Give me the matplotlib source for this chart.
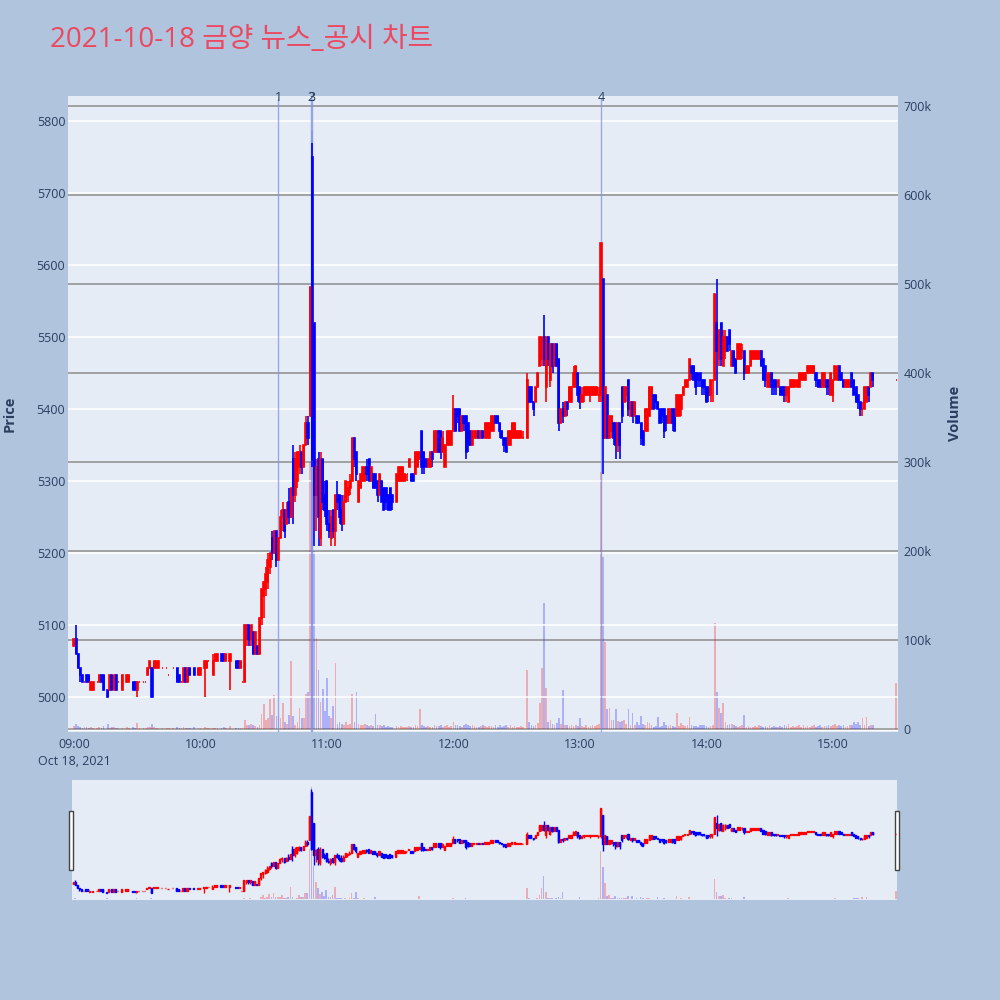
import numpy as np
import matplotlib
matplotlib.use("Agg")
import matplotlib.pyplot as plt
from matplotlib.patches import Rectangle
from matplotlib.transforms import blended_transform_factory

plt.rcParams["font.family"] = ["Open Sans", "Noto Sans CJK KR", "DejaVu Sans"]

# ---------------------- 1분봉 데이터 (09:00 기준 분) ----------------------
minutes = [
    0, 1, 2, 3, 4, 5, 6, 7, 8, 9,
    11, 12, 13, 14, 16, 17, 18, 19, 20, 21,
    23, 25, 26, 28, 29, 30, 31, 33, 34, 35,
    36, 37, 38, 39, 40, 42, 44, 45, 47, 49,
    50, 51, 52, 53, 54, 55, 57, 59,
    # 10:00
    60, 62, 63, 64, 66, 67, 68, 70, 71, 72,
    74, 77, 78, 79, 80, 81, 82, 83, 84, 85,
    86, 87, 88, 89, 90, 91, 92, 93, 94, 95,
    96, 97, 98, 99, 100, 101, 102, 103, 104, 105,
    106, 107, 108, 109, 110, 111, 112, 113, 114, 115,
    116, 117, 118, 119,
    # 11:00
    120, 121, 122, 123, 124, 125, 126, 127, 128, 129,
    130, 131, 132, 133, 134, 135, 136, 137, 138, 139,
    140, 141, 142, 143, 144, 145, 146, 147, 148, 149,
    150, 151, 153, 154, 155, 156, 157, 158, 159, 160,
    161, 162, 163, 164, 165, 166, 167, 168, 169, 170,
    171, 172, 173, 174, 175, 176, 177, 178, 179,
    # 12:00
    180, 181, 182, 183, 184, 185, 186, 187, 188, 189,
    190, 191, 192, 193, 194, 195, 196, 197, 198, 199,
    200, 201, 202, 203, 204, 205, 206, 207, 208, 209,
    210, 211, 212, 213, 215, 216, 217, 218, 219, 220,
    221, 222, 223, 224, 225, 226, 227, 228, 229, 230,
    231, 232, 233, 234, 235, 236, 237, 238, 239,
    # 13:00
    240, 241, 242, 243, 244, 245, 246, 247, 248, 249,
    250, 251, 252, 253, 254, 255, 256, 257, 258, 259,
    260, 261, 262, 263, 264, 265, 266, 267, 268, 269,
    270, 271, 272, 273, 274, 275, 276, 277, 278, 279,
    280, 281, 282, 283, 284, 285, 286, 287, 288, 289,
    290, 291, 292, 293, 294, 295, 296, 297, 298, 299,
    # 14:00
    300, 301, 302, 303, 304, 305, 306, 307, 308, 309,
    310, 311, 312, 313, 314, 315, 316, 317, 318, 319,
    320, 321, 322, 323, 324, 325, 326, 327, 328, 329,
    330, 331, 332, 333, 334, 335, 336, 337, 338, 339,
    340, 341, 342, 343, 344, 345, 346, 347, 348, 349,
    350, 351, 352, 353, 354, 355, 356, 357, 358, 359,
    # 15:00
    360, 361, 362, 363, 364, 365, 366, 367, 368, 369,
    370, 371, 372, 373, 374, 375, 376, 377, 378, 379,
    390,
]

opens = [
    5070, 5080, 5060, 5040, 5030, 5020, 5030, 5030, 5010, 5010,
    5020, 5020, 5030, 5030, 5010, 5010, 5030, 5010, 5030, 5020,
    5010, 5020, 5020, 5020, 5020, 5010, 5020, 5020, 5020, 5030,
    5040, 5040, 5040, 5040, 5040, 5040, 5040, 5030, 5040, 5040,
    5030, 5020, 5020, 5040, 5020, 5040, 5040, 5030,
    5030, 5040, 5040, 5050, 5030, 5050, 5050, 5060, 5060, 5050,
    5050, 5050, 5050, 5040, 5020, 5020, 5080, 5100, 5080, 5090,
    5060, 5070, 5060, 5110, 5140, 5150, 5160, 5180, 5220, 5200,
    5230, 5190, 5220, 5250, 5260, 5240, 5270, 5250, 5330, 5280,
    5300, 5320, 5340, 5320, 5350, 5380, 5390, 5750, 5520, 5280,
    5330, 5220, 5330, 5280,
    5300, 5240, 5220, 5260, 5230, 5280, 5280, 5260, 5240, 5270,
    5280, 5290, 5300, 5360, 5340, 5270, 5290, 5300, 5300, 5320,
    5330, 5300, 5310, 5310, 5300, 5280, 5300, 5290, 5290, 5280,
    5290, 5280, 5270, 5300, 5300, 5300, 5300, 5310, 5320, 5310,
    5310, 5310, 5320, 5330, 5370, 5340, 5330, 5320, 5320, 5340,
    5340, 5340, 5370, 5370, 5340, 5320, 5350, 5350, 5350,
    5370, 5400, 5400, 5400, 5370, 5390, 5390, 5380, 5370, 5350,
    5360, 5360, 5370, 5360, 5370, 5360, 5360, 5360, 5370, 5370,
    5390, 5390, 5380, 5370, 5360, 5360, 5350, 5350, 5360, 5360,
    5360, 5360, 5360, 5360, 5360, 5430, 5430, 5410, 5410, 5430,
    5460, 5470, 5500, 5430, 5500, 5440, 5490, 5460, 5490, 5470,
    5380, 5400, 5390, 5410, 5410, 5410, 5430, 5430, 5450,
    5430, 5410, 5420, 5420, 5420, 5420, 5420, 5420, 5420, 5420,
    5420, 5580, 5360, 5420, 5360, 5370, 5380, 5380, 5350, 5380,
    5430, 5410, 5420, 5440, 5390, 5410, 5390, 5390, 5390, 5380,
    5370, 5370, 5370, 5390, 5400, 5420, 5420, 5410, 5400, 5400,
    5400, 5390, 5380, 5380, 5400, 5400, 5390, 5390, 5400, 5420,
    5430, 5430, 5440, 5460, 5460, 5450, 5450, 5450, 5440, 5440,
    5430, 5430, 5420, 5440, 5440, 5520, 5470, 5520, 5460, 5480,
    5500, 5510, 5460, 5480, 5470, 5470, 5470, 5480, 5480, 5450,
    5450, 5460, 5470, 5470, 5470, 5470, 5480, 5470, 5460, 5430,
    5430, 5450, 5440, 5440, 5430, 5430, 5430, 5430, 5420, 5410,
    5430, 5430, 5430, 5430, 5430, 5440, 5440, 5440, 5450, 5450,
    5450, 5450, 5450, 5440, 5440, 5430, 5430, 5440, 5440, 5420,
    5420, 5440, 5440, 5460, 5450, 5440, 5430, 5430, 5430, 5450,
    5440, 5430, 5420, 5410, 5400, 5400, 5410, 5430, 5430, 5450,
    5440,
]

highs = [
    5080, 5100, 5060, 5040, 5030, 5020, 5030, 5030, 5020, 5020,
    5020, 5030, 5030, 5030, 5010, 5030, 5030, 5030, 5030, 5020,
    5030, 5030, 5030, 5020, 5020, 5020, 5020, 5020, 5020, 5040,
    5050, 5040, 5050, 5050, 5050, 5040, 5040, 5030, 5040, 5040,
    5030, 5020, 5040, 5040, 5040, 5040, 5040, 5040,
    5040, 5050, 5050, 5050, 5060, 5060, 5060, 5060, 5060, 5060,
    5060, 5050, 5050, 5050, 5020, 5100, 5100, 5100, 5100, 5090,
    5090, 5070, 5110, 5150, 5160, 5180, 5200, 5200, 5230, 5230,
    5230, 5220, 5260, 5270, 5260, 5270, 5290, 5290, 5350, 5340,
    5340, 5350, 5340, 5350, 5390, 5390, 5570, 5770, 5520, 5330,
    5340, 5340, 5330, 5300,
    5300, 5260, 5260, 5260, 5280, 5300, 5280, 5280, 5280, 5300,
    5300, 5310, 5360, 5360, 5340, 5300, 5310, 5320, 5320, 5330,
    5330, 5320, 5310, 5310, 5300, 5310, 5300, 5290, 5290, 5280,
    5290, 5280, 5310, 5320, 5320, 5320, 5310, 5310, 5330, 5310,
    5310, 5340, 5340, 5340, 5370, 5340, 5330, 5330, 5340, 5340,
    5370, 5370, 5370, 5370, 5370, 5350, 5370, 5370, 5370,
    5420, 5400, 5400, 5400, 5390, 5390, 5390, 5380, 5370, 5370,
    5370, 5370, 5370, 5370, 5370, 5380, 5380, 5380, 5390, 5390,
    5390, 5390, 5380, 5370, 5360, 5360, 5370, 5370, 5380, 5380,
    5370, 5370, 5370, 5370, 5450, 5430, 5430, 5410, 5430, 5450,
    5500, 5500, 5530, 5500, 5500, 5490, 5490, 5490, 5490, 5470,
    5400, 5410, 5410, 5410, 5430, 5430, 5460, 5460, 5450,
    5430, 5430, 5430, 5430, 5430, 5430, 5430, 5430, 5430, 5430,
    5630, 5580, 5430, 5420, 5390, 5390, 5380, 5380, 5380, 5380,
    5430, 5430, 5430, 5440, 5410, 5410, 5410, 5390, 5390, 5380,
    5370, 5400, 5400, 5430, 5430, 5420, 5420, 5410, 5400, 5400,
    5400, 5390, 5400, 5400, 5400, 5400, 5420, 5420, 5420, 5430,
    5440, 5440, 5470, 5460, 5460, 5450, 5450, 5450, 5440, 5440,
    5430, 5430, 5440, 5440, 5560, 5580, 5510, 5520, 5510, 5510,
    5500, 5510, 5480, 5480, 5470, 5490, 5490, 5490, 5480, 5460,
    5460, 5480, 5480, 5480, 5480, 5480, 5480, 5470, 5460, 5450,
    5450, 5450, 5440, 5440, 5440, 5430, 5430, 5430, 5430, 5430,
    5440, 5440, 5440, 5440, 5450, 5450, 5450, 5450, 5460, 5460,
    5460, 5460, 5450, 5440, 5440, 5450, 5450, 5440, 5440, 5450,
    5440, 5460, 5460, 5460, 5450, 5440, 5440, 5440, 5440, 5450,
    5440, 5430, 5420, 5410, 5410, 5430, 5430, 5430, 5450, 5450,
    5440,
]

lows = [
    5070, 5060, 5040, 5020, 5020, 5020, 5020, 5020, 5010, 5010,
    5020, 5020, 5020, 5010, 5000, 5010, 5010, 5010, 5010, 5020,
    5010, 5020, 5020, 5010, 5010, 5000, 5020, 5020, 5020, 5030,
    5040, 5000, 5040, 5040, 5040, 5040, 5040, 5030, 5040, 5020,
    5020, 5020, 5020, 5020, 5020, 5030, 5030, 5030,
    5030, 5000, 5040, 5050, 5030, 5050, 5050, 5050, 5050, 5050,
    5010, 5040, 5040, 5040, 5020, 5020, 5070, 5070, 5070, 5060,
    5060, 5060, 5060, 5100, 5110, 5140, 5150, 5170, 5190, 5200,
    5180, 5190, 5220, 5230, 5220, 5240, 5240, 5250, 5240, 5270,
    5290, 5310, 5310, 5320, 5350, 5350, 5390, 5320, 5210, 5230,
    5210, 5210, 5260, 5250,
    5230, 5220, 5210, 5220, 5210, 5260, 5240, 5230, 5240, 5270,
    5270, 5280, 5300, 5320, 5300, 5270, 5290, 5300, 5300, 5300,
    5300, 5300, 5290, 5290, 5270, 5280, 5270, 5260, 5260, 5260,
    5260, 5260, 5270, 5300, 5300, 5300, 5300, 5300, 5320, 5300,
    5300, 5310, 5320, 5330, 5310, 5310, 5320, 5320, 5320, 5320,
    5340, 5340, 5340, 5330, 5340, 5320, 5350, 5350, 5350,
    5370, 5370, 5380, 5370, 5370, 5370, 5330, 5340, 5350, 5350,
    5360, 5360, 5360, 5360, 5360, 5360, 5360, 5360, 5370, 5370,
    5380, 5380, 5360, 5360, 5340, 5340, 5350, 5350, 5360, 5360,
    5360, 5360, 5360, 5360, 5360, 5410, 5410, 5390, 5410, 5430,
    5460, 5460, 5460, 5410, 5460, 5430, 5450, 5460, 5460, 5370,
    5380, 5380, 5390, 5390, 5410, 5410, 5430, 5430, 5410,
    5400, 5410, 5410, 5420, 5420, 5410, 5420, 5420, 5420, 5410,
    5410, 5310, 5360, 5360, 5360, 5360, 5350, 5330, 5340, 5330,
    5380, 5410, 5410, 5390, 5390, 5380, 5390, 5380, 5380, 5350,
    5350, 5370, 5370, 5390, 5400, 5400, 5400, 5400, 5380, 5380,
    5360, 5370, 5380, 5380, 5370, 5370, 5390, 5390, 5390, 5420,
    5430, 5430, 5440, 5440, 5440, 5420, 5430, 5430, 5420, 5420,
    5410, 5410, 5410, 5410, 5440, 5420, 5460, 5460, 5460, 5470,
    5480, 5480, 5460, 5460, 5450, 5470, 5470, 5470, 5440, 5450,
    5450, 5460, 5470, 5470, 5470, 5470, 5460, 5440, 5430, 5430,
    5430, 5420, 5420, 5420, 5430, 5420, 5420, 5410, 5410, 5410,
    5430, 5430, 5430, 5430, 5430, 5440, 5440, 5440, 5450, 5450,
    5450, 5450, 5430, 5430, 5430, 5430, 5430, 5420, 5420, 5420,
    5410, 5440, 5440, 5440, 5440, 5430, 5430, 5430, 5430, 5430,
    5420, 5410, 5400, 5390, 5390, 5400, 5410, 5410, 5430, 5430,
    5440,
]

closes = [
    5080, 5060, 5040, 5030, 5020, 5020, 5020, 5020, 5020, 5020,
    5020, 5030, 5020, 5010, 5000, 5030, 5010, 5030, 5010, 5020,
    5030, 5030, 5030, 5010, 5010, 5020, 5020, 5020, 5020, 5040,
    5050, 5000, 5050, 5050, 5050, 5040, 5040, 5030, 5040, 5020,
    5020, 5020, 5040, 5020, 5040, 5030, 5030, 5040,
    5040, 5050, 5050, 5050, 5050, 5060, 5060, 5050, 5050, 5060,
    5060, 5040, 5040, 5050, 5020, 5100, 5100, 5080, 5100, 5060,
    5090, 5060, 5110, 5150, 5160, 5170, 5190, 5200, 5200, 5230,
    5190, 5220, 5250, 5260, 5230, 5260, 5250, 5290, 5280, 5330,
    5340, 5340, 5320, 5350, 5380, 5360, 5570, 5330, 5280, 5320,
    5250, 5330, 5270, 5260,
    5240, 5230, 5250, 5230, 5280, 5270, 5250, 5240, 5270, 5300,
    5290, 5300, 5360, 5330, 5310, 5300, 5310, 5320, 5320, 5310,
    5300, 5320, 5290, 5290, 5280, 5310, 5270, 5260, 5270, 5260,
    5260, 5270, 5310, 5320, 5320, 5320, 5310, 5310, 5330, 5300,
    5300, 5340, 5340, 5340, 5320, 5320, 5320, 5330, 5340, 5330,
    5370, 5370, 5340, 5340, 5360, 5350, 5370, 5370, 5370,
    5400, 5370, 5390, 5370, 5390, 5380, 5340, 5350, 5350, 5370,
    5370, 5370, 5360, 5370, 5360, 5380, 5380, 5380, 5390, 5390,
    5380, 5380, 5370, 5360, 5350, 5340, 5370, 5370, 5380, 5380,
    5370, 5370, 5370, 5360, 5440, 5410, 5410, 5400, 5430, 5450,
    5500, 5500, 5470, 5500, 5470, 5490, 5460, 5490, 5460, 5380,
    5400, 5390, 5410, 5400, 5430, 5430, 5450, 5460, 5420,
    5410, 5420, 5430, 5430, 5430, 5430, 5430, 5430, 5430, 5420,
    5630, 5360, 5430, 5360, 5390, 5390, 5360, 5350, 5380, 5350,
    5390, 5430, 5430, 5400, 5410, 5390, 5410, 5380, 5380, 5360,
    5350, 5400, 5400, 5430, 5430, 5400, 5410, 5400, 5380, 5390,
    5370, 5380, 5400, 5400, 5380, 5370, 5420, 5420, 5420, 5430,
    5440, 5440, 5470, 5450, 5440, 5430, 5440, 5440, 5430, 5430,
    5410, 5420, 5440, 5440, 5560, 5480, 5510, 5470, 5500, 5500,
    5480, 5490, 5480, 5460, 5450, 5490, 5490, 5480, 5450, 5460,
    5460, 5480, 5480, 5480, 5480, 5480, 5460, 5440, 5440, 5450,
    5450, 5430, 5430, 5430, 5440, 5420, 5420, 5420, 5430, 5430,
    5440, 5440, 5440, 5440, 5450, 5450, 5450, 5450, 5460, 5460,
    5460, 5460, 5440, 5430, 5430, 5450, 5450, 5430, 5430, 5450,
    5440, 5460, 5460, 5440, 5440, 5430, 5440, 5440, 5440, 5430,
    5420, 5410, 5410, 5400, 5400, 5430, 5430, 5420, 5450, 5440,
    5440,
]

# 거래량 (천 주)
volumes_k = [
    3, 6, 3, 2, 1, 2, 2, 1, 2, 1,
    1, 2, 1, 3, 6, 1, 2, 2, 1, 1,
    1, 2, 1, 2, 1, 7, 1, 1, 1, 2,
    2, 6, 2, 1, 1, 1, 1, 1, 1, 2,
    1, 1, 2, 1, 1, 1, 2, 1,
    1, 2, 1, 1, 1, 1, 1, 1, 2, 1,
    3, 1, 1, 1, 1, 10, 5, 4, 6, 4,
    3, 2, 5, 17, 28, 10, 12, 34, 16, 38,
    15, 15, 12, 29, 8, 6, 16, 76, 15, 5,
    8, 24, 12, 12, 39, 41, 300, 672, 200, 102,
    66, 30, 45, 20,
    57, 15, 12, 26, 74, 6, 8, 6, 5, 8,
    5, 6, 39, 8, 42, 6, 5, 4, 6, 4,
    3, 4, 3, 17, 5, 4, 3, 4, 2, 3,
    2, 2, 3, 2, 3, 2, 2, 2, 3, 2,
    2, 4, 3, 22, 5, 3, 2, 3, 2, 2,
    4, 3, 3, 4, 2, 3, 4, 2, 3,
    8, 5, 4, 3, 2, 5, 6, 4, 3, 4,
    3, 2, 2, 3, 4, 3, 2, 3, 3, 2,
    4, 2, 5, 2, 3, 4, 2, 4, 2, 3,
    2, 2, 3, 2, 66, 8, 4, 3, 5, 7,
    29, 69, 141, 46, 8, 10, 6, 5, 7, 12,
    6, 44, 5, 4, 3, 4, 3, 4, 3,
    12, 3, 2, 4, 2, 3, 4, 3, 5, 6,
    289, 193, 98, 22, 24, 10, 10, 22, 9, 8,
    9, 10, 6, 22, 5, 18, 4, 8, 5, 15,
    6, 4, 8, 7, 5, 2, 3, 14, 2, 3,
    8, 4, 3, 5, 3, 2, 18, 3, 7, 5,
    3, 5, 14, 4, 3, 3, 2, 5, 4, 5,
    3, 2, 3, 5, 119, 42, 23, 18, 29, 8,
    5, 6, 6, 4, 3, 2, 3, 5, 16, 2,
    3, 2, 2, 3, 2, 5, 3, 2, 3, 2,
    4, 2, 3, 2, 2, 3, 2, 4, 3, 6,
    2, 3, 2, 3, 5, 2, 4, 2, 3, 2,
    3, 4, 2, 3, 5, 2, 3, 3, 5, 3,
    4, 6, 3, 5, 3, 4, 2, 3, 4, 4,
    8, 6, 8, 4, 12, 5, 14, 3, 5, 4,
    52,
]

# 뉴스/공시 시점
news_minutes = [97, 112.5, 112.9, 250]
news_labels = ["1", "2", "3", "4"]

hour_ticks = [0, 60, 120, 180, 240, 300, 360]
hour_labels = ["09:00\nOct 18, 2021", "10:00", "11:00", "12:00", "13:00", "14:00", "15:00"]
price_ticks = [5000, 5100, 5200, 5300, 5400, 5500, 5600, 5700, 5800]
vol_ticks = [0, 100000, 200000, 300000, 400000, 500000, 600000, 700000]
vol_tick_labels = ["0", "100k", "200k", "300k", "400k", "500k", "600k", "700k"]

# ---------------------- 그리기 ----------------------
t = np.array(minutes, dtype=float)
o = np.array(opens, dtype=float)
h = np.array(highs, dtype=float)
l = np.array(lows, dtype=float)
c = np.array(closes, dtype=float)
v = np.array(volumes_k, dtype=float) * 1000

up = c >= o
cand_col = np.where(up, "#FF0000", "#0000FF")
vol_col = [(1, 0, 0, 0.27) if u else (0, 0, 1, 0.25) for u in up]

BG = "#B0C4DE"
PLOT_BG = "#E5ECF6"
TXT = "#2a3f5f"
PRICE_LIM = (4951, 5835)
VOL_LIM = (-3400, 711000)


def draw_candles(ax_p, ax_v, lw):
    ax_v.bar(t, v, width=0.8, color=vol_col, linewidth=0, zorder=2)
    ax_p.vlines(t, l, h, colors=cand_col, linewidth=lw, zorder=3)
    ax_p.bar(t, np.abs(c - o), bottom=np.minimum(o, c), width=0.5,
             color=cand_col, edgecolor=cand_col, linewidth=lw, zorder=3)


def layer(ax_p, ax_v):
    ax_p.set_zorder(ax_v.get_zorder() + 1)
    ax_p.patch.set_visible(False)
    ax_v.patch.set_visible(True)
    ax_v.patch.set_facecolor(PLOT_BG)
    for a in (ax_p, ax_v):
        for s in a.spines.values():
            s.set_visible(False)


fig = plt.figure(figsize=(10, 10), dpi=100, facecolor=BG)

# 메인 차트
ax = fig.add_axes([0.068, 0.268, 0.830, 0.636])
axv = ax.twinx()
layer(ax, axv)

axv.set_ylim(*VOL_LIM)
axv.set_yticks(vol_ticks)
axv.set_yticklabels(vol_tick_labels)
axv.grid(axis="y", color="#8c8c8c", linewidth=1.1, zorder=0)
axv.axhline(0, color="white", linewidth=2, zorder=1)

ax.set_ylim(*PRICE_LIM)
ax.set_yticks(price_ticks)
ax.set_axisbelow(True)
ax.grid(axis="y", color="white", linewidth=1.1)
ax.set_xlim(-2.85, 390.9)
ax.set_xticks(hour_ticks)
ax.set_xticklabels(hour_labels, linespacing=1.45)

draw_candles(ax, axv, 1.2)

trans = blended_transform_factory(ax.transData, ax.transAxes)
for m, lab in zip(news_minutes, news_labels):
    ax.axvline(m, ymax=0.995, color="#7f92e6", linewidth=1.0, alpha=0.75, zorder=2.5)
    ax.text(m, 0.998, lab, transform=trans, ha="center", va="center",
            fontsize=9, color=TXT, clip_on=False)

ax.tick_params(axis="y", length=0, pad=2, labelsize=9, labelcolor=TXT)
axv.tick_params(axis="y", length=0, pad=4, labelsize=9, labelcolor=TXT)
ax.tick_params(axis="x", length=0, pad=4, labelsize=9, labelcolor=TXT)
for lab in ax.get_xticklabels():
    lab.set_verticalalignment("top")

# 범위 슬라이더
axs = fig.add_axes([0.072, 0.10, 0.825, 0.12])
axsv = axs.twinx()
layer(axs, axsv)
axs.set_ylim(*PRICE_LIM)
axsv.set_ylim(*VOL_LIM)
axs.set_xlim(-0.5, 390.5)
draw_candles(axs, axsv, 1.0)
for a in (axs, axsv):
    a.set_xticks([])
    a.set_yticks([])

for hx in (0.0692, 0.8952):
    fig.add_artist(Rectangle((hx, 0.130), 0.0042, 0.059, transform=fig.transFigure,
                             facecolor="white", edgecolor="#444444", linewidth=1.0))

# 제목 / 축 이름
fig.text(0.05, 0.960, "2021-10-18 금양 뉴스_공시 차트", fontsize=20, color="#EC4860",
         ha="left", va="center")
fig.text(0.010, 0.586, "Price", rotation=90, ha="center", va="center",
         fontsize=10.5, fontweight="bold", color=TXT)
fig.text(0.955, 0.587, "Volume", rotation=90, ha="center", va="center",
         fontsize=10.5, fontweight="bold", color=TXT)

fig.savefig("out.png", dpi=100, facecolor=BG)
